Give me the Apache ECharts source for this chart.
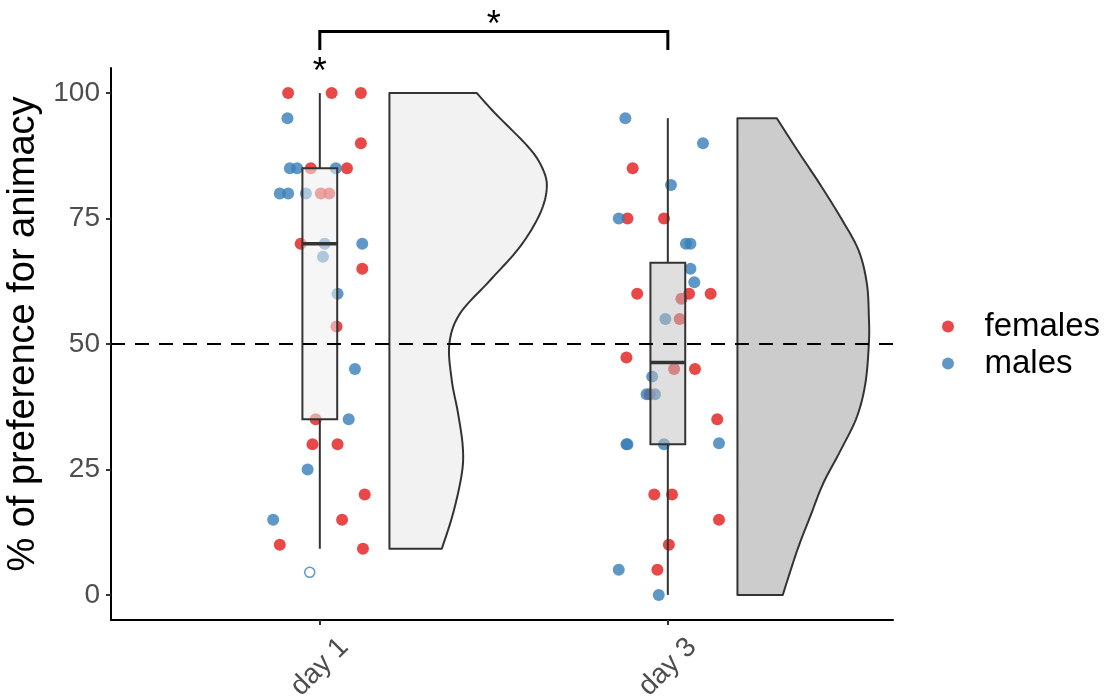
<!DOCTYPE html>
<html>
<head>
<meta charset="utf-8">
<script src="https://cdn.jsdelivr.net/npm/echarts@6/dist/echarts.min.js"></script>
<style>
  html, body { margin: 0; padding: 0; background: #ffffff; }
  #chart { width: 1111px; height: 700px; }
</style>
</head>
<body>
<div id="chart"></div>
<script>
// Session labels and y-axis ticks
const categories = ['day 1', 'day 3'];
const yTicks = [0, 25, 50, 75, 100];

// Individual scores: [jittered session position, % preference for animacy]
const females = [
  [0.909, 100], [1.034, 100], [1.118, 100], [1.118, 90], [0.974, 85], [1.078, 85],
  [1.003, 80], [1.027, 80], [0.945, 70], [1.122, 65], [1.048, 53.5], [0.988, 35],
  [0.979, 30], [1.051, 30], [1.129, 20], [1.064, 15], [0.885, 10], [1.124, 9.2],
  [1.899, 85], [1.884, 75], [1.989, 75], [1.912, 60], [2.061, 60], [2.123, 60],
  [2.039, 59], [2.034, 55], [1.881, 47.3], [2.018, 45], [2.078, 45], [1.948, 40],
  [2.142, 35], [1.961, 20], [2.012, 20], [2.147, 15], [2.003, 10], [1.970, 5]
];
const males = [
  [0.907, 95], [0.914, 85], [0.935, 85], [1.046, 85], [0.885, 80], [0.909, 80],
  [0.960, 80], [1.014, 70], [1.122, 70], [1.009, 67.4], [1.051, 60], [1.101, 45],
  [1.083, 35], [0.965, 25], [0.866, 15],
  [1.878, 95], [2.101, 90], [2.009, 81.7], [1.859, 75], [2.052, 70], [2.065, 70],
  [2.065, 65], [2.076, 62.3], [1.993, 55], [1.955, 43.5], [1.939, 40], [1.963, 40],
  [1.881, 30], [1.884, 30], [1.989, 30], [2.147, 30.2], [1.859, 5], [1.974, 0]
];
const outliers = [[0.971, 4.5]];

// Boxplot summary per session: [lower whisker, Q1, median, Q3, upper whisker]
const boxStats = [
  [9.2, 35, 70, 85, 100],
  [0, 30, 46.3, 66.2, 95]
];

// Half-violin density profiles per session: [value, relative density]
const densityDay1 = [
  [100, 0.555], [95.95, 0.672], [89.3, 0.881], [85.3, 0.968], [81.3, 1.0], [76.0, 0.957],
  [69.4, 0.830], [62.7, 0.640], [56.1, 0.449], [50.1, 0.381], [42.8, 0.396], [36.2, 0.436],
  [29.5, 0.466], [24.2, 0.460], [16.3, 0.405], [9.2, 0.333]
];
const densityDay3 = [
  [95, 0.250], [88.6, 0.381], [82.0, 0.521], [75.4, 0.652], [68.7, 0.769], [62.1, 0.822],
  [55.4, 0.835], [50.1, 0.835], [42.2, 0.813], [35.5, 0.759], [28.9, 0.657], [22.3, 0.546],
  [15.6, 0.462], [9.0, 0.381], [0, 0.288]
];
const densities = [densityDay1, densityDay3];
const violinFills = ['#F2F2F2', '#CCCCCC'];
const boxFills = ['rgba(238,238,238,0.55)', 'rgba(192,192,192,0.5)'];

// Chance level and significance annotations
const chanceLevel = 50;
const bracket = [[1, 2, 112.25, 108.6]];        // [from, to, bar level, drop level]
const stars = [[1.5, 113.3, '*'], [1, 103.9, '*']];

const FONT = "'Liberation Sans', Arial, sans-serif";
const VIOLIN_OFFSET = 0.2;
const VIOLIN_SCALE = 0.4523;
const BOX_HALF = 0.05;

// Catmull-Rom densification of a pixel polyline for a smooth outline
function smoothCurve(pts, steps) {
  const out = [];
  for (let i = 0; i < pts.length - 1; i++) {
    const p0 = pts[Math.max(i - 1, 0)], p1 = pts[i], p2 = pts[i + 1], p3 = pts[Math.min(i + 2, pts.length - 1)];
    for (let s = 0; s < steps; s++) {
      const t = s / steps, t2 = t * t, t3 = t2 * t;
      const f = (a, b, c, d) => 0.5 * ((2 * b) + (-a + c) * t + (2 * a - 5 * b + 4 * c - d) * t2 + (-a + 3 * b - 3 * c + d) * t3);
      out.push([f(p0[0], p1[0], p2[0], p3[0]), f(p0[1], p1[1], p2[1], p3[1])]);
    }
  }
  out.push(pts[pts.length - 1]);
  return out;
}

const chart = echarts.init(document.getElementById('chart'), null, { renderer: 'canvas' });

const option = {
  backgroundColor: '#ffffff',
  animation: false,
  textStyle: { fontFamily: FONT },
  grid: { left: 111, right: 218, top: 68, bottom: 80, containLabel: false, outerBoundsMode: 'none' },
  legend: {
    data: ['females', 'males'],
    orient: 'vertical',
    left: 937,
    top: 305,
    icon: 'circle',
    itemWidth: 63,
    itemHeight: 12,
    itemGap: 4,
    selectedMode: false,
    textStyle: { fontSize: 33, color: '#000000', fontFamily: FONT }
  },
  xAxis: {
    type: 'value',
    min: 0.4,
    max: 2.647,
    axisLine: { show: true, onZero: false, lineStyle: { color: '#000000', width: 2 } },
    axisTick: { show: true, customValues: [1, 2], length: 5, lineStyle: { color: '#333333', width: 2 } },
    axisLabel: {
      customValues: [1, 2],
      formatter: v => categories[Math.round(v) - 1],
      rotate: 45,
      align: 'center',
      verticalAlign: 'middle',
      margin: 47,
      fontSize: 28,
      color: '#4D4D4D',
      fontFamily: FONT
    },
    splitLine: { show: false }
  },
  yAxis: {
    type: 'value',
    min: -5,
    max: 105,
    name: '% of preference for animacy',
    nameLocation: 'middle',
    nameGap: 61,
    nameTextStyle: { fontSize: 38, color: '#000000', fontFamily: FONT, padding: [0, 0, 0, 20] },
    axisLine: { show: true, onZero: false, lineStyle: { color: '#000000', width: 2 } },
    axisTick: { show: true, customValues: yTicks, length: 5, lineStyle: { color: '#333333', width: 2 } },
    axisLabel: { customValues: yTicks, fontSize: 28, color: '#4D4D4D', margin: 11, fontFamily: FONT },
    splitLine: { show: false }
  },
  series: [
    {
      name: 'violins',
      type: 'custom',
      z: 1,
      silent: true,
      data: [[0], [1]],
      renderItem: (params, api) => {
        const i = api.value(0);
        const prof = densities[i];
        const left = i + 1 + VIOLIN_OFFSET;
        const edge = prof.map(([v, d]) => api.coord([left + d * VIOLIN_SCALE, v]));
        const top = api.coord([left, prof[0][0]]);
        const bottom = api.coord([left, prof[prof.length - 1][0]]);
        const points = [bottom, top].concat(smoothCurve(edge, 12));
        return {
          type: 'polygon',
          shape: { points },
          style: { fill: violinFills[i], stroke: '#333333', lineWidth: 2, lineJoin: 'round' }
        };
      }
    },
    {
      name: 'females',
      type: 'scatter',
      z: 2,
      symbolSize: 12,
      itemStyle: { color: '#E41A1C', opacity: 0.8 },
      data: females
    },
    {
      name: 'males',
      type: 'scatter',
      z: 2,
      symbolSize: 12,
      itemStyle: { color: '#377EB8', opacity: 0.8 },
      data: males
    },
    {
      name: 'boxes',
      type: 'custom',
      z: 3,
      silent: true,
      data: [[0], [1]],
      renderItem: (params, api) => {
        const i = api.value(0);
        const [lo, q1, med, q3, hi] = boxStats[i];
        const cx = i + 1;
        const pLo = api.coord([cx, lo]), pQ1 = api.coord([cx, q1]);
        const pQ3 = api.coord([cx, q3]), pHi = api.coord([cx, hi]);
        const tl = api.coord([cx - BOX_HALF, q3]), br = api.coord([cx + BOX_HALF, q1]);
        const ml = api.coord([cx - BOX_HALF, med]), mr = api.coord([cx + BOX_HALF, med]);
        const stroke = { stroke: '#333333', lineWidth: 2 };
        const children = [
          { type: 'line', shape: { x1: pLo[0], y1: pLo[1], x2: pQ1[0], y2: pQ1[1] }, style: stroke },
          { type: 'line', shape: { x1: pQ3[0], y1: pQ3[1], x2: pHi[0], y2: pHi[1] }, style: stroke },
          { type: 'rect', shape: { x: tl[0], y: tl[1], width: br[0] - tl[0], height: br[1] - tl[1] },
            style: { fill: boxFills[i], stroke: '#333333', lineWidth: 2 } },
          { type: 'line', shape: { x1: ml[0], y1: ml[1], x2: mr[0], y2: mr[1] }, style: { stroke: '#333333', lineWidth: 3.5 } }
        ];
        outliers.filter(o => Math.round(o[0]) === cx).forEach(o => {
          const p = api.coord(o);
          children.push({ type: 'circle', shape: { cx: p[0], cy: p[1], r: 5 },
            style: { fill: '#ffffff', stroke: 'rgba(55,126,184,0.8)', lineWidth: 1.5 } });
        });
        return { type: 'group', children };
      },
      markLine: {
        silent: true,
        symbol: 'none',
        label: { show: false },
        lineStyle: { color: '#000000', width: 2, type: [14, 10] },
        data: [{ yAxis: chanceLevel }]
      }
    },
    {
      name: 'bracket',
      type: 'custom',
      z: 4,
      silent: true,
      data: bracket,
      renderItem: (params, api) => {
        const a = api.coord([api.value(0), api.value(3)]);
        const b = api.coord([api.value(0), api.value(2)]);
        const c = api.coord([api.value(1), api.value(2)]);
        const d = api.coord([api.value(1), api.value(3)]);
        return { type: 'polyline', shape: { points: [a, b, c, d] },
          style: { stroke: '#000000', lineWidth: 3, fill: null, lineJoin: 'miter' } };
      }
    },
    {
      name: 'stars',
      type: 'custom',
      z: 4,
      silent: true,
      data: stars,
      renderItem: (params, api) => {
        const p = api.coord([api.value(0), api.value(1)]);
        return { type: 'text', x: p[0], y: p[1],
          style: { text: stars[params.dataIndex][2], fill: '#000000', font: "36px " + FONT,
            textAlign: 'center', textVerticalAlign: 'middle' } };
      }
    }
  ]
};

chart.setOption(option);
</script>
</body>
</html>
